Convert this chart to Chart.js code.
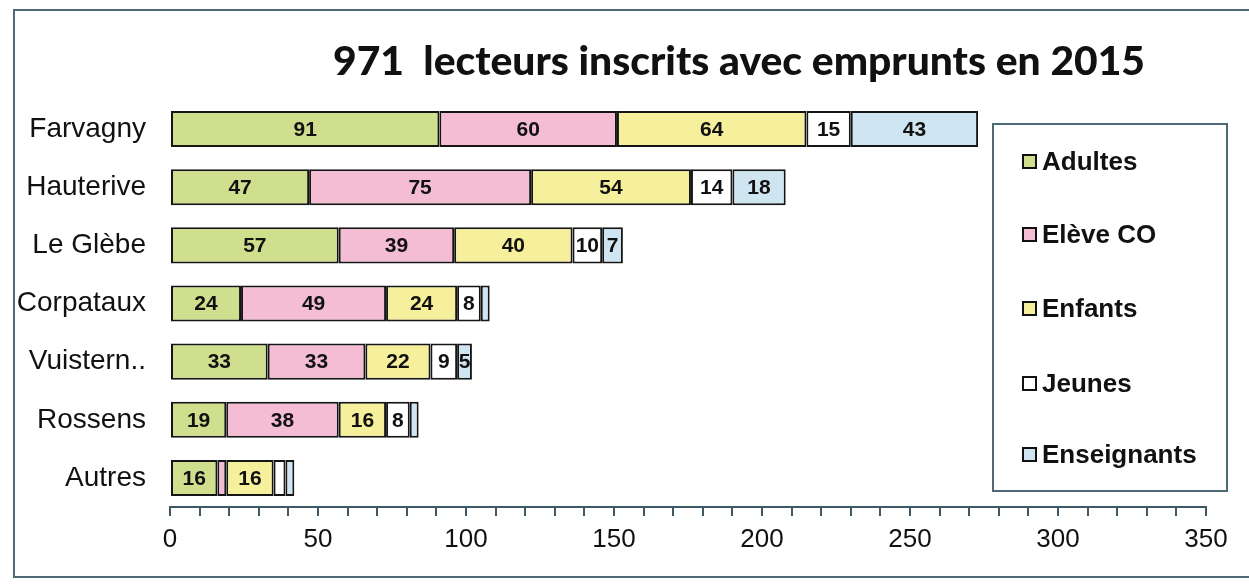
<!DOCTYPE html>
<html>
<head>
<meta charset="utf-8">
<script src="https://cdn.jsdelivr.net/npm/chart.js@4/dist/chart.umd.min.js"></script>
<style>
  html, body { margin: 0; padding: 0; background: #ffffff; }
  #wrap { position: relative; width: 1249px; height: 586px; overflow: hidden; background: #fff; }
  #frame { position: absolute; left: 13px; top: 9px; width: 1240px; height: 569px; border: 2px solid #4e6a76; box-sizing: border-box; pointer-events: none; }
  #title { position: absolute; left: 333px; top: 40px; font-family: Lato, "Open Sans", sans-serif; font-weight: 900; font-size: 40px; line-height: 40px; color: #111; white-space: pre; transform-origin: 0 0; }
  #legend { position: absolute; left: 992px; top: 123px; width: 236px; height: 369px; border: 2px solid #4e6a76; box-sizing: border-box; background: #fff; }
  .li { position: absolute; left: 28px; height: 30px; display: flex; align-items: center; font-family: "Liberation Sans", Arial, sans-serif; font-weight: 700; font-size: 26px; color: #111; white-space: nowrap; }
  .mk { width: 11px; height: 11px; border: 2px solid #111; margin-right: 5px; flex: none; }
  canvas { position: absolute; left: 0; top: 0; }
</style>
</head>
<body>
<div id="wrap">
  <canvas id="c" width="1249" height="586"></canvas>
  <div id="frame"></div>
  <div id="title"></div>
  <div id="legend"></div>
</div>
<script>
const titleText = "971  lecteurs inscrits avec emprunts en 2015";
const categories = ["Farvagny", "Hauterive", "Le Glèbe", "Corpataux", "Vuistern..", "Rossens", "Autres"];
const seriesNames = ["Adultes", "Elève CO", "Enfants", "Jeunes", "Enseignants"];
const adultes     = [91, 47, 57, 24, 33, 19, 16];
const eleveCO     = [60, 75, 39, 49, 33, 38, 3];
const enfants     = [64, 54, 40, 24, 22, 16, 16];
const jeunes      = [15, 14, 10, 8, 9, 8, 4];
const enseignants = [43, 18, 7, 3, 5, 3, 3];
const xTickLabels = [0, 50, 100, 150, 200, 250, 300, 350];

const seriesValues = [adultes, eleveCO, enfants, jeunes, enseignants];
const seriesColors = ["#d0df8e", "#f5bdd4", "#f6ef9c", "#ffffff", "#cfe5f1"];

// Title
const t = document.getElementById('title');
t.textContent = titleText;
const tw = t.getBoundingClientRect().width;
t.style.transform = 'scaleX(' + (812 / tw) + ')';

// Legend
const lg = document.getElementById('legend');
const itemTops = [21, 94, 168, 243, 314];
seriesNames.forEach((n, i) => {
  const d = document.createElement('div');
  d.className = 'li';
  d.style.top = itemTops[i] + 'px';
  const m = document.createElement('span');
  m.className = 'mk';
  m.style.background = seriesColors[i];
  const s = document.createElement('span');
  s.textContent = n;
  d.appendChild(m); d.appendChild(s);
  lg.appendChild(d);
});

const valueLabels = {
  id: 'valueLabels',
  afterDatasetsDraw(chart) {
    const ctx = chart.ctx;
    ctx.save();
    ctx.font = 'bold 21px "Liberation Sans", Arial, sans-serif';
    ctx.fillStyle = '#111';
    ctx.textAlign = 'center';
    ctx.textBaseline = 'middle';
    chart.data.datasets.forEach((ds, di) => {
      const meta = chart.getDatasetMeta(di);
      meta.data.forEach((el, i) => {
        const v = ds.data[i];
        if (v >= 5) {
          const p = el.getCenterPoint();
          ctx.fillText(String(v), p.x, p.y + 1);
        }
      });
    });
    ctx.restore();
  }
};

new Chart(document.getElementById('c'), {
  type: 'bar',
  data: {
    labels: categories,
    datasets: seriesNames.map((n, i) => ({
      label: n,
      data: seriesValues[i],
      backgroundColor: seriesColors[i],
      borderColor: '#151515',
      borderWidth: 2,
      borderSkipped: false,
      categoryPercentage: 1,
      barPercentage: 0.62
    }))
  },
  options: {
    indexAxis: 'y',
    responsive: false,
    animation: false,
    layout: { padding: { top: 100, right: 43, left: 0, bottom: 0 } },
    plugins: { legend: { display: false }, title: { display: false }, tooltip: { enabled: false } },
    scales: {
      x: {
        stacked: true,
        min: 0, max: 350,
        grid: { display: true, drawOnChartArea: false, drawTicks: true, tickLength: 9, color: '#3d5864', lineWidth: 2 },
        border: { display: true, color: '#3d5864', width: 2 },
        ticks: {
          stepSize: 10,
          autoSkip: false,
          maxRotation: 0,
          padding: 8,
          color: '#111',
          font: { family: '"Liberation Sans", Arial, sans-serif', size: 26 },
          callback: (v) => xTickLabels.includes(v) ? String(v) : ''
        },
        afterFit: (s) => { s.height = 79; }
      },
      y: {
        stacked: true,
        grid: { display: false, drawTicks: false },
        border: { display: false },
        ticks: {
          padding: 24,
          color: '#111',
          font: { family: '"Liberation Sans", Arial, sans-serif', size: 28 }
        },
        afterFit: (s) => { s.width = 170; }
      }
    }
  },
  plugins: [valueLabels]
});
</script>
</body>
</html>
